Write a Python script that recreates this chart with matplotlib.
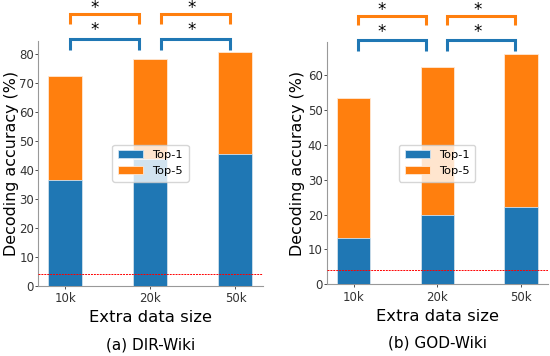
import matplotlib
matplotlib.use("Agg")
import matplotlib.pyplot as plt
import numpy as np

sizes = ["10k", "20k", "50k"]
dir_top1 = [36.5, 43.8, 45.5]
dir_top5 = [72.5, 78.5, 80.7]
god_top1 = [13.4, 19.8, 22.2]
god_top5 = [53.6, 62.4, 66.2]
chance = 4.0
titles = ["(a) DIR-Wiki", "(b) GOD-Wiki"]

blue = "#1f77b4"
orange = "#ff7f0e"


def draw_panel(ax, top1, top5, title, ylab_x):
    x = np.arange(len(sizes))
    ax.bar(x, top5, width=0.4, color=orange, edgecolor="#ffe8d4", linewidth=0.6, label="Top-5", zorder=2)
    ax.bar(x, top1, width=0.4, color=blue, edgecolor="#d0e2f0", linewidth=0.6, label="Top-1", zorder=3)
    ax.axhline(chance, color="red", linestyle="--", linewidth=0.7, dashes=(2, 1), zorder=4)

    ax.set_xticks(x)
    ax.set_xticklabels(sizes)
    ax.tick_params(labelsize=8.5, colors="#333333", length=2, width=0.6)
    ax.tick_params(axis="y", pad=1)
    ax.tick_params(axis="x", pad=2.5)
    for s in ["top", "right"]:
        ax.spines[s].set_visible(False)
    for s in ["left", "bottom"]:
        ax.spines[s].set_color("#999999")
        ax.spines[s].set_linewidth(0.8)

    ax.set_xlabel("Extra data size", fontsize=11.8, labelpad=4)
    ax.set_ylabel("Decoding accuracy (%)", fontsize=11.4)
    # label coords give the right edge of the rotated label
    ax.yaxis.set_label_coords(ylab_x, 0.5)
    ax.text(0.5, -0.242, title, transform=ax.transAxes, ha="center", va="center", fontsize=11)

    handles, labels = ax.get_legend_handles_labels()
    ax.legend(handles[::-1], labels[::-1], loc="center", fontsize=8.2,
              handlelength=2.2, borderpad=0.5, labelspacing=0.5)

    # significance brackets
    tr = ax.get_xaxis_transform()
    pairs = [(0.05, 0.86, 0.34), (1.12, 1.93, 1.48)]
    levels = [(1.008, 0.962, 1.043, blue), (1.108, 1.07, 1.132, orange)]
    for x0, x1, xs in pairs:
        for yh, yl, ys, c in levels:
            ax.plot([x0, x0, x1, x1], [yl, yh, yh, yl], color=c, linewidth=2.2,
                    transform=tr, clip_on=False, solid_capstyle="butt", solid_joinstyle="miter")
            ax.text(xs, ys, "*", transform=tr, ha="center", va="center", fontsize=12)


fig = plt.figure(figsize=(5.5, 3.56), dpi=100)
ax1 = fig.add_axes([0.0696, 0.1975, 0.408, 0.688])
ax2 = fig.add_axes([0.594, 0.2015, 0.402, 0.680])

draw_panel(ax1, dir_top1, dir_top5, titles[0], -0.088)
draw_panel(ax2, god_top1, god_top5, titles[1], -0.098)
ax1.set_yticks([0, 10, 20, 30, 40, 50, 60, 70, 80])

fig.savefig("out.png", dpi=100)
